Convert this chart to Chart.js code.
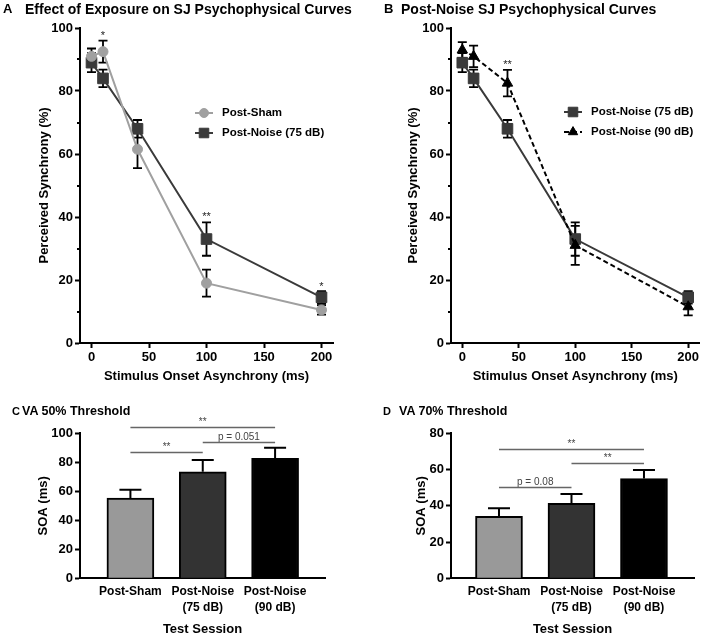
<!DOCTYPE html>
<html>
<head>
<meta charset="utf-8">
<title>SJ psychophysical curves and VA thresholds</title>
<script src="https://cdn.jsdelivr.net/npm/chart.js@4.4.1/dist/chart.umd.min.js"></script>
<style>
  html, body { margin: 0; padding: 0; background: #fff; }
  #fig { position: relative; width: 708px; height: 639px; overflow: hidden; font-family: 'Liberation Sans', Arial, sans-serif; }
  #fig canvas { position: absolute; }
  .lbl { position: absolute; font-weight: bold; white-space: nowrap; color: #000; line-height: 16px; }
</style>
</head>
<body>
<div id="fig">
  <canvas id="chartA" width="354" height="390" style="left:0;top:0"></canvas>
  <canvas id="chartB" width="354" height="390" style="left:354px;top:0"></canvas>
  <canvas id="chartC" width="354" height="249" style="left:0;top:390px"></canvas>
  <canvas id="chartD" width="354" height="249" style="left:354px;top:390px"></canvas>

  <div class="lbl" style="left:3px;top:1px;font-size:13px">A</div>
  <div class="lbl" style="left:25px;top:1px;font-size:14px">Effect of Exposure on SJ Psychophysical Curves</div>
  <div class="lbl" style="left:384px;top:1px;font-size:13px">B</div>
  <div class="lbl" style="left:401px;top:1px;font-size:14px">Post-Noise SJ Psychophysical Curves</div>
  <div class="lbl" style="left:12px;top:403px;font-size:11px">C</div>
  <div class="lbl" style="left:22px;top:403px;font-size:12.5px">VA 50% Threshold</div>
  <div class="lbl" style="left:383px;top:403px;font-size:11px">D</div>
  <div class="lbl" style="left:399px;top:403px;font-size:12.5px">VA 70% Threshold</div>
</div>

<script>
// ---- panels A and B: simultaneity judgement curves ----
const soa = [0, 10, 40, 100, 200];
const soaTicks = [0, 50, 100, 150, 200];
const postSham = [91, 92.5, 61.5, 19, 10.5];
const postShamErr = [2.5, 3.5, 6, 4.3, 1.5];
const noise75 = [89, 84, 68, 33, 14.5];
const noise75Err = [3, 2.8, 2.8, 5.3, 2];
const noise90 = [93, 91, 82.5, 31, 11.5];
const noise90Err = [2.5, 3.4, 4.2, 6.2, 2.7];

const starsAx = [10, 100, 200];
const starsAy = [98.4, 41, 18.6];
const starsAtext = ['*', '**', '*'];
const starsBx = [40];
const starsBy = [89.3];
const starsBtext = ['**'];

// ---- panels C and D: thresholds per session ----
const sessions = [['Post-Sham'], ['Post-Noise', '(75 dB)'], ['Post-Noise', '(90 dB)']];
const va50 = [55.3, 73.5, 82.8];
const va50Err = [5.8, 8.1, 7.3];
const va70 = [34.2, 41.4, 55];
const va70Err = [4.5, 5.1, 4.8];

const va50SigFrom = [0, 1, 0];
const va50SigTo = [2, 2, 1];
const va50SigY = [104.6, 94.2, 87.3];
const va50SigText = ['**', 'p = 0.051', '**'];
const va70SigFrom = [0, 1, 0];
const va70SigTo = [2, 2, 1];
const va70SigY = [71.3, 63.8, 50.2];
const va70SigText = ['**', '**', 'p = 0.08'];

const FONT = "'Liberation Sans', Arial, sans-serif";
Chart.defaults.font.family = FONT;
Chart.defaults.color = '#000';

const tickFont = { size: 13, weight: 'bold' };
const axisFont = { size: 13, weight: 'bold' };
const barColors = ['#999999', '#333333', '#000000'];

const toXY = (xs, ys) => xs.map((x, i) => ({ x: x, y: ys[i] }));

// error bars: both ways for the curves (under the markers), upward only for bars
function drawErrors(chart, cap, upOnly) {
  const ctx = chart.ctx, ys = chart.scales.y;
  ctx.save();
  ctx.strokeStyle = '#000';
  ctx.lineWidth = upOnly ? 2 : 1.8;
  chart.data.datasets.forEach((ds, i) => {
    if (!ds.errors) return;
    chart.getDatasetMeta(i).data.forEach((el, j) => {
      const v = ds.data[j].y, e = ds.errors[j];
      const top = ys.getPixelForValue(v + e);
      const bot = upOnly ? el.y : ys.getPixelForValue(v - e);
      ctx.beginPath();
      ctx.moveTo(el.x, top); ctx.lineTo(el.x, bot);
      ctx.moveTo(el.x - cap, top); ctx.lineTo(el.x + cap, top);
      if (!upOnly) { ctx.moveTo(el.x - cap, bot); ctx.lineTo(el.x + cap, bot); }
      ctx.stroke();
    });
  });
  ctx.restore();
}

const errorBars = {
  id: 'errorBars',
  beforeDatasetsDraw(chart) { if (chart.config.type === 'line') drawErrors(chart, 4.5, false); },
  afterDatasetsDraw(chart) { if (chart.config.type === 'bar') drawErrors(chart, 11, true); }
};

const minorTicks = {
  id: 'minorTicks',
  afterDraw(chart, args, o) {
    if (!o.on) return;
    const s = chart.scales.y, ctx = chart.ctx, x0 = chart.chartArea.left;
    ctx.save();
    ctx.strokeStyle = '#000';
    ctx.lineWidth = 2;
    for (let i = 1; i < s.ticks.length; i++) {
      const y = Math.round(s.getPixelForValue((s.ticks[i - 1].value + s.ticks[i].value) / 2));
      ctx.beginPath(); ctx.moveTo(x0 - 3, y); ctx.lineTo(x0, y); ctx.stroke();
    }
    ctx.restore();
  }
};

const stars = {
  id: 'stars',
  afterDatasetsDraw(chart, args, o) {
    if (!o.x) return;
    const ctx = chart.ctx;
    ctx.save();
    ctx.font = '11px ' + FONT;
    ctx.fillStyle = '#222';
    ctx.textAlign = 'center';
    ctx.textBaseline = 'alphabetic';
    o.x.forEach((x, i) => {
      ctx.fillText(o.text[i], chart.scales.x.getPixelForValue(x), chart.scales.y.getPixelForValue(o.y[i]) + 6);
    });
    ctx.restore();
  }
};

const brackets = {
  id: 'brackets',
  afterDraw(chart, args, o) {
    if (!o.from) return;
    const ctx = chart.ctx, xs = chart.scales.x, ys = chart.scales.y;
    ctx.save();
    o.from.forEach((f, i) => {
      const x1 = xs.getPixelForValue(f), x2 = xs.getPixelForValue(o.to[i]);
      const y = Math.round(ys.getPixelForValue(o.y[i])) + 0.5;
      ctx.strokeStyle = '#666';
      ctx.lineWidth = 1.3;
      ctx.beginPath(); ctx.moveTo(x1, y); ctx.lineTo(x2, y); ctx.stroke();
      ctx.font = '10px ' + FONT;
      ctx.fillStyle = '#444';
      ctx.textAlign = 'center';
      ctx.textBaseline = 'alphabetic';
      ctx.fillText(o.text[i], (x1 + x2) / 2, y - 3);
    });
    ctx.restore();
  }
};

const sideLegend = {
  id: 'sideLegend',
  afterDraw(chart, args, o) {
    if (o.x === undefined) return;
    const ctx = chart.ctx;
    ctx.save();
    chart.data.datasets.forEach((ds, i) => {
      const y = o.y + i * o.gap;
      ctx.strokeStyle = ds.borderColor;
      ctx.lineWidth = ds.borderWidth;
      ctx.setLineDash(ds.borderDash || []);
      ctx.beginPath(); ctx.moveTo(o.x - 9, y); ctx.lineTo(o.x + 9, y); ctx.stroke();
      ctx.setLineDash([]);
      ctx.fillStyle = ds.pointBackgroundColor;
      ctx.strokeStyle = ds.pointBorderColor;
      ctx.lineWidth = 1;
      Chart.helpers.drawPoint(ctx, { pointStyle: ds.pointStyle, radius: ds.pointRadius * 0.9, rotation: 0, borderWidth: 1 }, o.x, y);
      ctx.font = 'bold 11.5px ' + FONT;
      ctx.fillStyle = '#000';
      ctx.textAlign = 'left';
      ctx.textBaseline = 'middle';
      ctx.fillText(ds.label, o.textX, y);
    });
    ctx.restore();
  }
};

Chart.register(errorBars, minorTicks, stars, brackets, sideLegend);

function shamSet() {
  return { label: 'Post-Sham', data: toXY(soa, postSham), errors: postShamErr,
    borderColor: '#a0a0a0', backgroundColor: '#a0a0a0', pointBackgroundColor: '#a0a0a0', pointBorderColor: '#a0a0a0',
    pointStyle: 'circle', pointRadius: 5, pointBorderWidth: 1, borderWidth: 2, order: 0 };
}
function noise75Set(order) {
  return { label: 'Post-Noise (75 dB)', data: toXY(soa, noise75), errors: noise75Err,
    borderColor: '#3a3a3a', backgroundColor: '#3a3a3a', pointBackgroundColor: '#3a3a3a', pointBorderColor: '#3a3a3a',
    pointStyle: 'rect', pointRadius: 7.5, pointBorderWidth: 1, borderWidth: 2, order: order };
}
function noise90Set() {
  return { label: 'Post-Noise (90 dB)', data: toXY(soa, noise90), errors: noise90Err,
    borderColor: '#000', backgroundColor: '#000', pointBackgroundColor: '#000', pointBorderColor: '#000',
    pointStyle: 'triangle', pointRadius: 6, pointBorderWidth: 1, borderWidth: 2, borderDash: [5, 3], order: 0 };
}

const axisLook = {
  grid: { drawOnChartArea: false, tickLength: 5, tickWidth: 2, tickColor: '#000' },
  border: { color: '#000', width: 2 }
};

function lineChart(id, datasets, box, legend, st) {
  return new Chart(document.getElementById(id), {
    type: 'line',
    data: { datasets: datasets },
    options: {
      responsive: false,
      animation: false,
      layout: { padding: { left: box.padLeft, top: 28, right: box.padRight, bottom: 0 } },
      scales: {
        x: Object.assign({
          type: 'linear', min: -10, max: 210,
          afterBuildTicks: s => { s.ticks = soaTicks.map(v => ({ value: v })); },
          afterFit: s => { s.height = 390 - 343; },
          ticks: { font: tickFont, color: '#000', padding: 2, autoSkip: false, maxRotation: 0 },
          title: { display: true, text: 'Stimulus Onset Asynchrony (ms)', font: axisFont, color: '#000', padding: { top: 0, bottom: 6 } }
        }, axisLook),
        y: Object.assign({
          type: 'linear', min: 0, max: 100,
          afterFit: s => { s.width = box.axisX - box.padLeft; },
          ticks: { stepSize: 20, font: tickFont, color: '#000', padding: 2 },
          title: { display: true, text: 'Perceived Synchrony (%)', font: axisFont, color: '#000', padding: { top: 0, bottom: 0 } }
        }, axisLook)
      },
      plugins: {
        legend: { display: false },
        tooltip: { enabled: false },
        minorTicks: { on: true },
        sideLegend: legend,
        stars: st
      }
    }
  });
}

function barChart(id, values, errs, yMax, box, sig) {
  return new Chart(document.getElementById(id), {
    type: 'bar',
    data: {
      datasets: [{
        data: values.map((v, i) => ({ x: i, y: v })), errors: errs,
        backgroundColor: barColors, borderColor: '#000', borderWidth: 2, borderSkipped: 'start', barThickness: 47
      }]
    },
    options: {
      responsive: false,
      animation: false,
      layout: { padding: { left: box.padLeft, top: 43.3, right: box.padRight, bottom: 0 } },
      scales: {
        x: {
          type: 'linear', min: box.xMin, max: box.xMax, offset: false,
          afterBuildTicks: s => { s.ticks = sessions.map((c, i) => ({ value: i })); },
          afterFit: s => { s.height = 249 - 188.3; },
          ticks: { callback: v => sessions[v] || '', font: { size: 12, weight: 'bold', lineHeight: 1.36 }, color: '#000', padding: 5, autoSkip: false, maxRotation: 0 },
          grid: { display: true, drawOnChartArea: false, drawTicks: false, offset: false },
          border: { color: '#000', width: 2 },
          title: { display: true, text: 'Test Session', font: axisFont, color: '#000', padding: { top: 0, bottom: 2 } }
        },
        y: Object.assign({
          type: 'linear', min: 0, max: yMax,
          afterFit: s => { s.width = box.axisX - box.padLeft; },
          ticks: { stepSize: 20, font: tickFont, color: '#000', padding: 2 },
          title: { display: true, text: 'SOA (ms)', font: axisFont, color: '#000', padding: { top: 0, bottom: 0 } }
        }, axisLook)
      },
      plugins: {
        legend: { display: false },
        tooltip: { enabled: false },
        brackets: sig
      }
    }
  });
}

lineChart('chartA', [shamSet(), noise75Set(1)],
  { padLeft: 37, axisX: 80, padRight: 21 },
  { x: 204, y: 113, gap: 20, textX: 222 },
  { x: starsAx, y: starsAy, text: starsAtext });

lineChart('chartB', [noise75Set(1), noise90Set()],
  { padLeft: 52, axisX: 97, padRight: 4 },
  { x: 219, y: 112, gap: 20, textX: 237 },
  { x: starsBx, y: starsBy, text: starsBtext });

barChart('chartC', va50, va50Err, 100,
  { padLeft: 35.7, axisX: 80, padRight: 29, xMin: -0.697, xMax: 2.69 },
  { from: va50SigFrom, to: va50SigTo, y: va50SigY, text: va50SigText });

barChart('chartD', va70, va70Err, 80,
  { padLeft: 59.2, axisX: 97, padRight: 14, xMin: -0.662, xMax: 2.69 },
  { from: va70SigFrom, to: va70SigTo, y: va70SigY, text: va70SigText });
</script>
</body>
</html>
